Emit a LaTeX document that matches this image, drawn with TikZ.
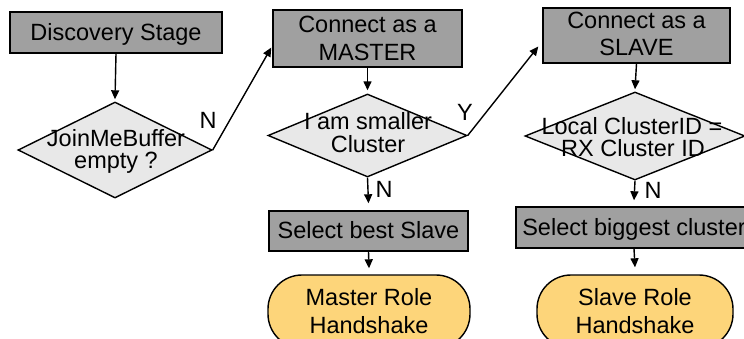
\documentclass[tikz,border=0pt]{standalone}
\usepackage{fontspec}
\setmainfont{Liberation Sans}
\usetikzlibrary{shapes.geometric,arrows.meta}
\definecolor{boxgray}{RGB}{160,160,160}
\definecolor{diagray}{RGB}{232,232,232}
\definecolor{termyel}{RGB}{253,213,122}
\begin{document}
\begin{tikzpicture}[x=1pt,y=-1pt,
  proc/.style={draw=black,line width=1.4pt,fill=boxgray,inner sep=0pt,rectangle},
  deci/.style={draw=black,line width=1.4pt,fill=diagray,inner sep=0pt,diamond},
  term/.style={draw=black,line width=1.4pt,fill=termyel,inner sep=0pt,rectangle,rounded corners=34pt},
  txt/.style={anchor=base,inner sep=0pt,font=\fontsize{23.5}{28}\selectfont},
  yn/.style={inner sep=0pt,font=\fontsize{23.5}{28}\selectfont},
  arr/.style={line width=1.4pt,-{Triangle[length=9pt,width=8pt]}}]
\useasboundingbox (0,0) rectangle (744,338);
\clip (0,0) rectangle (744,338);
\fill[white] (0,0) rectangle (744,338);
% shapes
\node[proc,minimum width=212pt,minimum height=41pt] (disc) at (116,32.5) {};
\node[deci,minimum width=194pt,minimum height=96pt] (d1) at (115,150) {};
\node[proc,minimum width=189pt,minimum height=57pt] (master) at (367.5,38.5) {};
\node[deci,minimum width=199pt,minimum height=83pt] (d2) at (367.5,135.5) {};
\node[proc,minimum width=187pt,minimum height=55pt] (slave) at (636.5,35.5) {};
\node[deci,minimum width=220pt,minimum height=88pt] (d3) at (635,136) {};
\node[proc,minimum width=199pt,minimum height=40pt] (selbest) at (368.5,231) {};
\node[proc,minimum width=236pt,minimum height=41pt] (selbig) at (634,227.5) {};
\node[term,minimum width=202pt,minimum height=73pt] (mrole) at (369,311.5) {};
\node[term,minimum width=196pt,minimum height=73pt] (srole) at (635,311.5) {};
% texts
\node[txt] (tdisc) at (116,40) {Discovery Stage};
\node[txt] (td1a) at (116,146) {JoinMeBuffer};
\node[txt] (td1b) at (116,168) {empty ?};
\node[txt] (tm1) at (367.5,32) {Connect as a};
\node[txt] (tm2) at (367.5,60) {MASTER};
\node[txt] (td2a) at (368,129) {I am smaller};
\node[txt] (td2b) at (368,152) {Cluster};
\node[txt] (ts1) at (636.5,28) {Connect as a};
\node[txt] (ts2) at (636.5,55) {SLAVE};
\node[txt] (td3a) at (632,134) {Local ClusterID =};
\node[txt] (td3b) at (633,156) {RX Cluster ID};
\node[txt] (tsb) at (368.5,238) {Select best Slave};
\node[txt] (tsg) at (634,235) {Select biggest cluster};
\node[txt] (tmr1) at (369,305) {Master Role};
\node[txt] (tmr2) at (369,333) {Handshake};
\node[txt] (tsr1) at (635,305) {Slave Role};
\node[txt] (tsr2) at (635,333) {Handshake};
% connectors
\draw[arr] (disc.south) -- ([yshift=2pt]d1.north);
\draw[arr] (d1.east) -- ([xshift=-1pt,yshift=-9pt]master.west);
\draw[arr] (master.south) -- ([yshift=3pt]d2.north);
\draw[arr] (d2.east) -- ([xshift=-4pt,yshift=-11pt]slave.west);
\draw[arr] (slave.south) -- ([yshift=2pt]d3.north);
\draw[arr] (d2.south) -- ([yshift=7pt]selbest.north);
\draw[arr] (d3.south) -- ([yshift=6pt]selbig.north);
\draw[arr] (selbest.south) -- ([yshift=6pt]mrole.north);
\draw[arr] (selbig.south) -- ([yshift=7pt]srole.north);
% labels
\node[yn] (n1) at (208,120) {N};
\node[yn] (y2) at (465,112) {Y};
\node[yn] (n2) at (384,189) {N};
\node[yn] (n3) at (653,190) {N};
\end{tikzpicture}
\end{document}
